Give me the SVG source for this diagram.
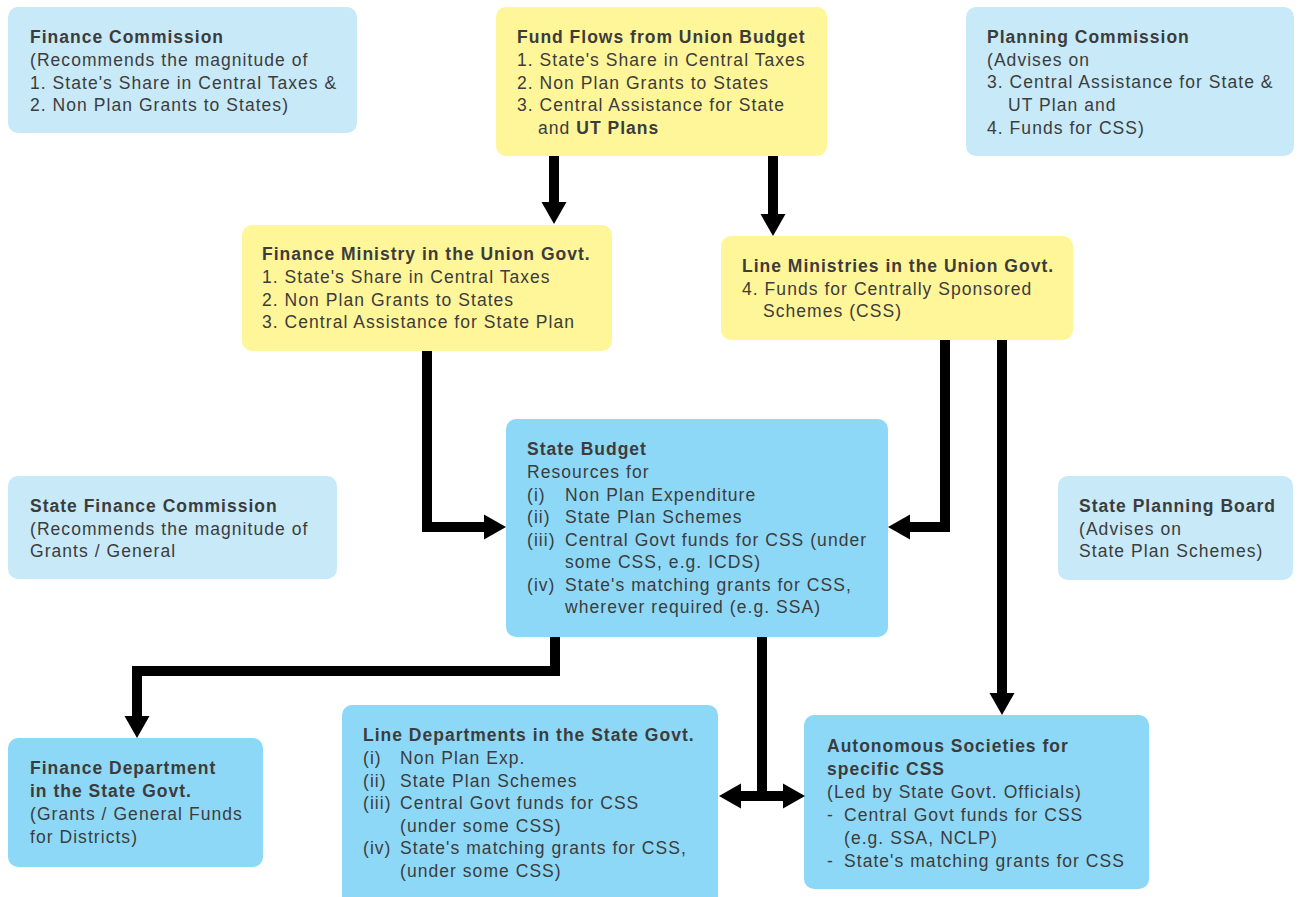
<svg xmlns="http://www.w3.org/2000/svg" width="1300" height="897" viewBox="0 0 1300 897">
<style>
.lb{fill:#c7e9f8}
.mb{fill:#8ed8f7}
.yl{fill:#fff599}
text{font-family:"Liberation Sans",Arial,sans-serif;font-size:17.5px;fill:#3c3c3c;letter-spacing:1.05px}
.b{font-weight:bold;letter-spacing:1px}
.c{fill:none;stroke:#000;stroke-width:10;stroke-linejoin:miter;stroke-linecap:butt}
</style>
<defs>
<marker id="ah" markerUnits="userSpaceOnUse" markerWidth="24" markerHeight="26" viewBox="0 -13 22 26" refX="0" refY="0" orient="auto-start-reverse">
<path d="M0,-12.5 L22,0 L0,12.5z" fill="#000"/>
</marker>
</defs>
<rect width="1300" height="897" fill="#fff"/>

<g id="finance-commission">
<rect class="lb" x="8" y="7" width="349" height="126" rx="10"/>
<text class="b" x="30" y="43">Finance Commission</text>
<text x="30" y="66">(Recommends the magnitude of</text>
<text x="30" y="89">1. State's Share in Central Taxes &amp;</text>
<text x="30" y="111">2. Non Plan Grants to States)</text>
</g>

<g id="fund-flows">
<rect class="yl" x="496" y="7" width="331" height="149" rx="10"/>
<text class="b" x="517" y="43">Fund Flows from Union Budget</text>
<text x="517" y="66">1. State's Share in Central Taxes</text>
<text x="517" y="89">2. Non Plan Grants to States</text>
<text x="517" y="111">3. Central Assistance for State</text>
<text x="538" y="134">and <tspan class="b">UT Plans</tspan></text>
</g>

<g id="planning-commission">
<rect class="lb" x="966" y="7" width="328" height="149" rx="10"/>
<text class="b" x="987" y="43">Planning Commission</text>
<text x="987" y="66">(Advises on</text>
<text x="987" y="88">3. Central Assistance for State &amp;</text>
<text x="1008" y="111">UT Plan and</text>
<text x="987" y="134">4. Funds for CSS)</text>
</g>

<g id="finance-ministry">
<rect class="yl" x="242" y="225" width="370" height="126" rx="10"/>
<text class="b" x="262" y="260">Finance Ministry in the Union Govt.</text>
<text x="262" y="283">1. State's Share in Central Taxes</text>
<text x="262" y="306">2. Non Plan Grants to States</text>
<text x="262" y="328">3. Central Assistance for State Plan</text>
</g>

<g id="line-ministries">
<rect class="yl" x="721" y="236" width="352" height="104" rx="10"/>
<text class="b" x="742" y="272">Line Ministries in the Union Govt.</text>
<text x="742" y="295">4. Funds for Centrally Sponsored</text>
<text x="763" y="317">Schemes (CSS)</text>
</g>

<g id="state-budget">
<rect class="mb" x="506" y="419" width="382" height="218" rx="10"/>
<text class="b" x="527" y="455">State Budget</text>
<text x="527" y="478">Resources for</text>
<text x="527" y="501">(i)</text><text x="565" y="501">Non Plan Expenditure</text>
<text x="527" y="523">(ii)</text><text x="565" y="523">State Plan Schemes</text>
<text x="527" y="546">(iii)</text><text x="565" y="546">Central Govt funds for CSS (under</text>
<text x="565" y="568">some CSS, e.g. ICDS)</text>
<text x="527" y="591">(iv)</text><text x="565" y="591">State's matching grants for CSS,</text>
<text x="565" y="613">wherever required (e.g. SSA)</text>
</g>

<g id="state-finance-commission">
<rect class="lb" x="8" y="476" width="329" height="103" rx="10"/>
<text class="b" x="30" y="512">State Finance Commission</text>
<text x="30" y="535">(Recommends the magnitude of</text>
<text x="30" y="557">Grants / General</text>
</g>

<g id="state-planning-board">
<rect class="lb" x="1058" y="476" width="235" height="104" rx="10"/>
<text class="b" x="1079" y="512">State Planning Board</text>
<text x="1079" y="535">(Advises on</text>
<text x="1079" y="557">State Plan Schemes)</text>
</g>

<g id="finance-department">
<rect class="mb" x="8" y="738" width="255" height="129" rx="10"/>
<text class="b" x="30" y="774">Finance Department</text>
<text class="b" x="30" y="797">in the State Govt.</text>
<text x="30" y="820">(Grants / General Funds</text>
<text x="30" y="843">for Districts)</text>
</g>

<g id="line-departments">
<rect class="mb" x="342" y="705" width="376" height="205" rx="10"/>
<text class="b" x="363" y="741">Line Departments in the State Govt.</text>
<text x="363" y="764">(i)</text><text x="400" y="764">Non Plan Exp.</text>
<text x="363" y="787">(ii)</text><text x="400" y="787">State Plan Schemes</text>
<text x="363" y="809">(iii)</text><text x="400" y="809">Central Govt funds for CSS</text>
<text x="400" y="832">(under some CSS)</text>
<text x="363" y="854">(iv)</text><text x="400" y="854">State's matching grants for CSS,</text>
<text x="400" y="877">(under some CSS)</text>
</g>

<g id="autonomous-societies">
<rect class="mb" x="804" y="715" width="345" height="174" rx="10"/>
<text class="b" x="827" y="752">Autonomous Societies for</text>
<text class="b" x="827" y="775">specific CSS</text>
<text x="827" y="798">(Led by State Govt. Officials)</text>
<text x="827" y="821">-</text><text x="844" y="821">Central Govt funds for CSS</text>
<text x="844" y="844">(e.g. SSA, NCLP)</text>
<text x="827" y="867">-</text><text x="844" y="867">State's matching grants for CSS</text>
</g>

<g id="connectors">
<path class="c" d="M554,156 V202" marker-end="url(#ah)"/>
<path class="c" d="M773,156 V214" marker-end="url(#ah)"/>
<path class="c" d="M427,351 V527 H484" marker-end="url(#ah)"/>
<path class="c" d="M945,340 V527 H910" marker-end="url(#ah)"/>
<path class="c" d="M1002,340 V693" marker-end="url(#ah)"/>
<path class="c" d="M555,637 V671 H137 V716" marker-end="url(#ah)"/>
<path class="c" d="M762,637 V796"/>
<path class="c" d="M741,796 H783" marker-start="url(#ah)" marker-end="url(#ah)"/>
</g>
</svg>
